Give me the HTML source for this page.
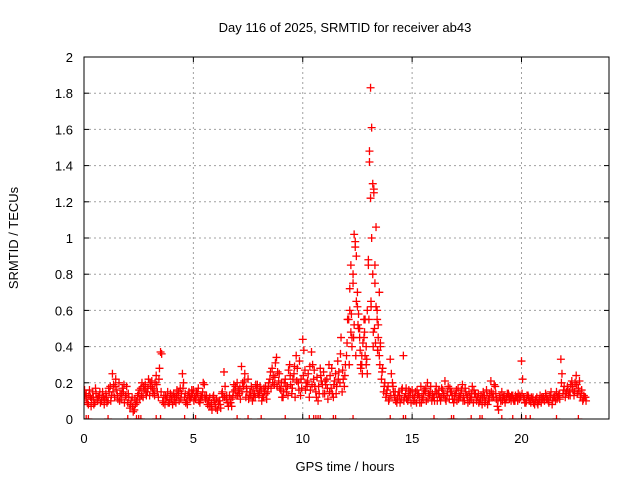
<!DOCTYPE html>
<html><head><meta charset="utf-8"><style>
body{margin:0;background:#fff}
text{font-family:"Liberation Sans",sans-serif;font-size:13px;fill:#000}
</style></head><body>
<svg id="chart" width="640" height="480" xmlns="http://www.w3.org/2000/svg">
<defs><clipPath id="pc"><rect x="84" y="57" width="525" height="362"/></clipPath></defs>
<g id="grid"></g>
<g id="pts" clip-path="url(#pc)" stroke="#f00" stroke-width="1.3"></g>
<rect x="84" y="57" width="525" height="362" fill="none" stroke="#000" stroke-width="1"/>
<g id="ticks"></g>
<text x="345" y="32" text-anchor="middle">Day 116 of 2025, SRMTID for receiver ab43</text>
<text x="345" y="471" text-anchor="middle">GPS time / hours</text>
<text transform="translate(18,238) rotate(-90)" text-anchor="middle">SRMTID / TECUs</text>
</svg>
<script>
const xTicks=[0,5,10,15,20];
const yTicks=[0,0.2,0.4,0.6,0.8,1,1.2,1.4,1.6,1.8,2];
const valsA=[.10,.14,.08,.12,.15,.09,.11,.13,.10,.12,
.14,.10,.18,.25,.12,.16,.20,.11,.15,.13,
.09,.06,.12,.05,.10,.14,.17,.12,.19,.15,
.13,.21,.16,.24,.12,.37,.10,.08,.12,.09,
.11,.14,.09,.13,.17,.25,.12,.10,.15,.12,
.16,.11,.14,.09,.12,.19,.13,.10,.07,.12,
.08,.05,.10,.14,.26,.11,.07,.09,.12,.16,
.20,.14,.29,.18,.12,.22,.15,.10,.14,.17,
.13,.16,.12,.18,.15,.22,.28,.19,.34,.21,
.16,.12,.22,.18,.30,.14,.25,.35,.20,.13,
.44,.27,.18,.12,.37,.22,.15,.10,.28,.19,
.14,.22,.30,.17,.12,.25,.32,.20,.15,.18,
.35,.55,.48,.80,.95,.62,.45,.30,.55,.40,
.85,1.83,1.30,.75,.60,.35,.22,.15,.12,.18,
.33,.20,.12,.09,.15,.11,.35,.14,.10,.13,
.16,.12,.09,.14,.18,.11,.15,.20,.13,.10,
.12,.18,.14,.10,.16,.21,.13,.11,.15,.09,
.14,.17,.12,.19,.10,.13,.15,.11,.09,.14,
.12,.10,.08,.13,.16,.11,.21,.14,.18,.07,
.12,.15,.13,.11,.14,.12,.13,.10,.12,.11,
.32,.12,.09,.13,.10,.11,.08,.12,.10,.09,
.12,.14,.11,.13,.08,.12,.15,.13,.33,.14,
.12,.18,.15,.21,.13,.24,.17,.12,.10,.12];
const valsB=[.13,.09,.16,.11,.08,.14,.12,.09,.15,.11,
.09,.15,.13,.19,.22,.11,.14,.17,.09,.18,
.12,.10,.04,.08,.13,.11,.20,.16,.13,.22,
.18,.14,.20,.15,.28,.36,.13,.11,.09,.14,
.08,.12,.16,.10,.14,.20,.09,.13,.11,.14,
.12,.15,.10,.13,.20,.11,.08,.12,.05,.10,
.11,.08,.06,.12,.18,.09,.13,.07,.19,.13,
.16,.11,.20,.25,.15,.13,.18,.12,.19,.14,
.18,.12,.15,.11,.20,.17,.24,.31,.26,.17,
.12,.20,.15,.27,.19,.22,.12,.28,.32,.17,
.38,.20,.25,.16,.30,.18,.23,.14,.21,.26,
.19,.11,.24,.14,.21,.18,.26,.45,.22,.30,
.55,.72,.40,1.02,.65,.50,.28,.42,.35,.60,
1.48,1.61,1.25,1.06,.52,.40,.28,.20,.16,.11,
.25,.15,.10,.13,.09,.17,.12,.11,.16,.09,
.10,.15,.13,.09,.12,.16,.10,.14,.18,.12,
.15,.10,.12,.17,.13,.10,.18,.15,.11,.13,
.10,.13,.16,.12,.15,.09,.12,.18,.14,.10,
.09,.13,.15,.10,.08,.14,.12,.19,.11,.05,
.10,.12,.09,.14,.11,.13,.10,.12,.14,.12,
.22,.09,.13,.10,.12,.09,.11,.08,.13,.11,
.10,.11,.09,.15,.12,.10,.12,.11,.25,.18,
.15,.13,.19,.16,.20,.14,.21,.16,.13,.10];
const valsC=[.16,.11,.13,.07,.12,.17,.10,.15,.12,.08,
.12,.17,.10,.15,.18,.13,.10,.14,.19,.12,
.14,.08,.07,.11,.09,.16,.13,.18,.15,.17,
.20,.17,.13,.19,.22,.15,.09,.13,.15,.11,
.13,.10,.12,.15,.11,.17,.14,.08,.12,.16,
.10,.13,.17,.11,.15,.13,.10,.07,.09,.13,
.06,.10,.08,.15,.12,.13,.09,.11,.15,.18,
.13,.17,.15,.21,.17,.11,.13,.16,.12,.19,
.15,.10,.17,.14,.18,.26,.20,.23,.18,.25,
.20,.15,.18,.13,.24,.17,.29,.21,.16,.22,
.24,.16,.21,.29,.19,.27,.12,.18,.24,.14,
.21,.17,.15,.28,.19,.14,.22,.36,.27,.24,
.42,.30,.58,.45,.35,.52,.38,.25,.48,.33,
.55,.62,.48,.42,.38,.30,.26,.18,.14,.10,
.13,.18,.15,.11,.13,.16,.10,.17,.12,.15,
.13,.10,.16,.12,.09,.14,.17,.11,.15,.14,
.10,.14,.16,.12,.14,.11,.15,.17,.13,.11,
.16,.11,.14,.10,.17,.12,.10,.14,.16,.12,
.14,.11,.12,.09,.13,.10,.15,.12,.14,.10,
.13,.10,.11,.12,.13,.10,.11,.13,.10,.13,
.14,.11,.10,.12,.09,.12,.10,.09,.11,.12,
.11,.13,.10,.12,.10,.13,.11,.14,.20,.16,
.14,.16,.13,.18,.15,.19,.15,.14,.11,.12];
const peakTimes=[12.2,12.3,12.45,12.5,12.6,12.7,12.8,12.9,13.05,13.1,13.15,13.2,13.25,13.3,13.35,13.4,13.45,13.5,12.35,12.95,13.12,13.22,12.15,12.55,12.4,13.0,12.25,12.65,12.85,13.28,13.42,13.55];
const peakVals=[.85,.75,.9,.7,.5,.35,.45,.3,1.42,1.22,1.0,.8,1.27,.85,.62,.55,.45,.7,.52,.25,.65,.4,.6,.58,.98,.88,.45,.3,.55,.5,.38,.42];
const zeroTimes=[0.1,0.2,1.1,2.0,2.4,2.5,2.6,3.3,3.5,4.6,5.1,7.0,7.5,8.1,9.2,10.3,10.5,10.6,10.7,10.8,11.4,11.5,12.3,14.0,14.6,14.7,16.0,16.8,16.9,17.7,18.1,18.2,19.1,19.6,20.0,20.2,20.4,21.6,22.6];
const X0=84,X1=609,Y0=419,Y1=57;
const sx=t=>X0+(t/24)*(X1-X0);
const sy=v=>Y0-(v/2)*(Y0-Y1);
const NS='http://www.w3.org/2000/svg';
const grid=document.getElementById('grid'),ticks=document.getElementById('ticks'),pts=document.getElementById('pts');
function mk(tag,attrs,parent){const e=document.createElementNS(NS,tag);for(const k in attrs)e.setAttribute(k,attrs[k]);parent.appendChild(e);return e;}
xTicks.forEach(t=>{
  const x=sx(t);
  if(t>0){const g=mk('line',{x1:x,x2:x,y1:Y1,y2:Y0,stroke:'#a0a0a0','stroke-dasharray':'2,3'},grid);
  
  }
  const a=mk('line',{x1:x,x2:x,y1:Y0,y2:Y0-5,stroke:'#000'},ticks);
  
  
  const b=mk('line',{x1:x,x2:x,y1:Y1,y2:Y1+5,stroke:'#000'},ticks);
  
  
  const l=mk('text',{x:x,y:443,'text-anchor':'middle'},ticks);l.textContent=t;
  
  
});
yTicks.forEach(v=>{
  const y=sy(v);
  if(v>0&&v<2){const g=mk('line',{x1:X0,x2:X1,y1:y,y2:y,stroke:'#a0a0a0','stroke-dasharray':'2,3'},grid);
  
  }
  const a=mk('line',{x1:X0,x2:X0+5,y1:y,y2:y,stroke:'#000'},ticks);
  
  
  const b=mk('line',{x1:X1,x2:X1-5,y1:y,y2:y,stroke:'#000'},ticks);
  
  
  const l=mk('text',{x:73,y:y+5,'text-anchor':'end'},ticks);l.textContent=String(v);
  
  
});
function cross(t,v){
  const x=sx(t),y=sy(v);
  const p=mk('path',{d:`M${x-4},${y}h8M${x},${y-4}v8`,fill:'none'},pts);
  
  
}
valsA.forEach((v,i)=>cross(i*0.1,v));
valsB.forEach((v,i)=>cross(i*0.1+0.05,v));
valsC.forEach((v,i)=>cross(i*0.1+0.025,v));
peakTimes.forEach((t,i)=>cross(t,peakVals[i]));
zeroTimes.forEach(t=>cross(t,0));
</script>
</body></html>
